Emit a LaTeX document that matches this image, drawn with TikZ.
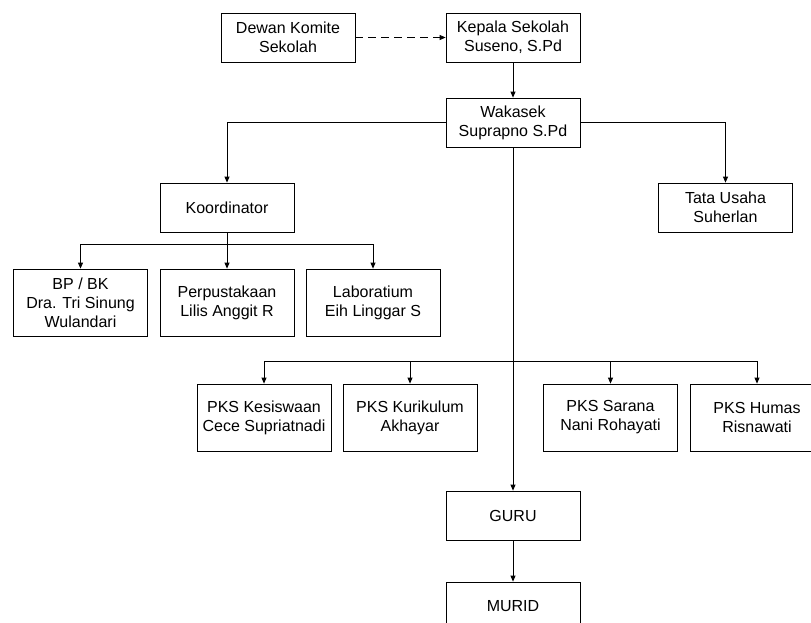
\documentclass[tikz,border=0pt]{standalone}
\usepackage{fontspec}
\setmainfont{Liberation Sans}
\usepackage{tikz}
\usetikzlibrary{arrows.meta, positioning}

\begin{document}
\begin{tikzpicture}[x=1pt, y=-1pt,
        box/.style={draw, rectangle, line width=0.8pt, minimum width=134pt, minimum height=49pt, inner sep=0pt, align=center, font=\fontsize{16}{19}\selectfont},
        tallbox/.style={box, minimum height=67pt},
        arr/.style={line width=0.8pt, -{Triangle[length=6pt, width=5pt]}}]
        \useasboundingbox (0, 0) rectangle (811, 622);

        \node[box] (dewan) at (288, 37.5) {Dewan Komite\\Sekolah};
        \node[box] (kepala) at (513, 37.5) {Kepala Sekolah\\Suseno, S.Pd};
        \node[box] (wakasek) at (513, 122.5) {Wakasek\\Suprapno S.Pd};
        \node[box] (koord) at (227, 207.5) {Koordinator};
        \node[box] (tata) at (725.5, 207.5) {Tata Usaha\\Suherlan};

        \node[tallbox] (bp) at (80.5, 302.5) {BP / BK\\Dra. Tri Sinung\\Wulandari};
        \node[tallbox] (perpus) at (227, 302.5) {Perpustakaan\\Lilis Anggit R};
        \node[tallbox] (lab) at (373, 302.5) {Laboratium\\Eih Linggar S};

        \node[tallbox] (kesiswaan) at (264, 417.5) {PKS Kesiswaan\\Cece Supriatnadi};
        \node[tallbox] (kurikulum) at (410, 417.5) {PKS Kurikulum\\Akhayar};
        \node[tallbox] (sarana) at (610.5, 417.5) {PKS Sarana\\Nani Rohayati};
        \node[tallbox] (humas) at (757, 417.5) {PKS Humas\\Risnawati};

        \node[box] (guru) at (513, 515.5) {GURU};
        \node[box] (murid) at (513, 606.5) {MURID};

        \coordinate (kj) at (227, 244);
        \coordinate (pj) at (513, 361);

        \draw[arr, dash pattern=on 8pt off 5pt] (dewan) to (kepala);
        \draw[arr] (kepala) to (wakasek);
        \draw[arr] (wakasek.west) -| (koord.north);
        \draw[arr] (wakasek.east) -| (tata.north);
        \draw[arr] (koord) to (perpus);
        \draw[arr] (kj) -| (bp.north);
        \draw[arr] (kj) -| (lab.north);
        \draw[arr] (wakasek) to (guru);
        \draw[arr] (pj) -| (kesiswaan.north);
        \draw[arr] (pj) -| (kurikulum.north);
        \draw[arr] (pj) -| (sarana.north);
        \draw[arr] (pj) -| (humas.north);
        \draw[arr] (guru) to (murid);
\end{tikzpicture}
\end{document}
